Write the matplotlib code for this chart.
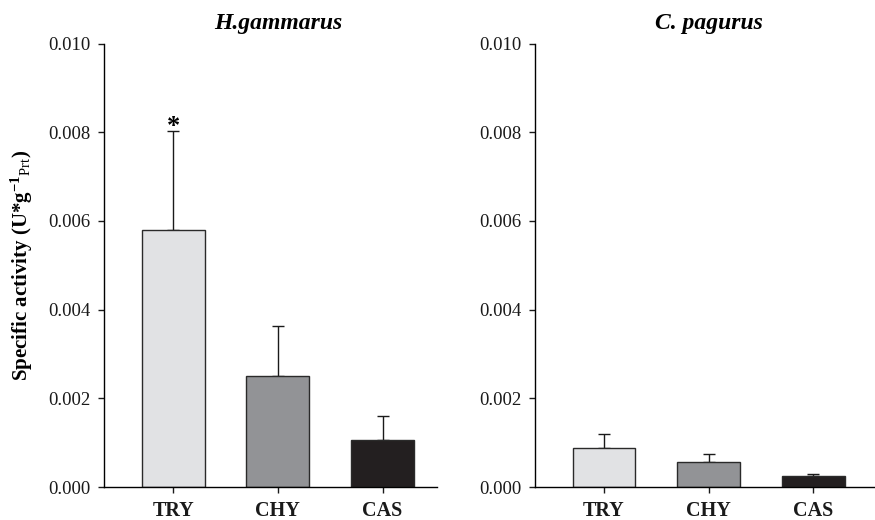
import matplotlib
matplotlib.use("Agg")
import matplotlib.pyplot as plt
import matplotlib.transforms as mtransforms

plt.rcParams['font.family'] = ['Liberation Serif', 'DejaVu Serif']
plt.rcParams['mathtext.fontset'] = 'custom'
plt.rcParams['mathtext.rm'] = 'Liberation Serif'
plt.rcParams['mathtext.bf'] = 'Liberation Serif:bold'
plt.rcParams['mathtext.it'] = 'Liberation Serif:italic'

categories = ["TRY", "CHY", "CAS"]
species = ["H.gammarus", "C. pagurus"]
hg_values = [0.0058, 0.0025, 0.00105]
hg_errors = [0.00223, 0.00114, 0.00055]
cp_values = [0.00088, 0.00057, 0.00024]
cp_errors = [0.00032, 0.00018, 0.00005]
bar_colors = ["#e1e2e4", "#929396", "#231f20"]
yticks = [0.000, 0.002, 0.004, 0.006, 0.008, 0.010]
ytick_labels = ["0.000", "0.002", "0.004", "0.006", "0.008", "0.010"]
significance = ["*", "", ""]

fig = plt.figure(figsize=(8.75, 5.2), dpi=100)
ax1 = fig.add_axes([104/875, 1-487/520, 333/875, 443.5/520])
ax2 = fig.add_axes([535/875, 1-487/520, 340/875, 443.5/520])

x = list(range(len(categories)))
for ax, vals, errs, title, xr in [(ax1, hg_values, hg_errors, species[0], 2.52),
                                   (ax2, cp_values, cp_errors, species[1], 2.59)]:
    ax.bar(x, vals, width=0.6, color=bar_colors, edgecolor="#2a2a2a", linewidth=1.0, zorder=2)
    ax.errorbar(x, vals, yerr=[[0]*len(vals), errs], fmt='none', ecolor='#1a1a1a',
                elinewidth=1.0, capsize=4.5, capthick=1.0, zorder=1)
    ax.set_xlim(-0.66, xr)
    ax.set_ylim(0, 0.010)
    ax.set_yticks(yticks)
    ax.set_yticklabels(ytick_labels, fontsize=13.5)
    ax.set_xticks(x)
    ax.set_xticklabels(categories, fontsize=14.5, fontweight='bold')
    ax.spines['top'].set_visible(False)
    ax.spines['right'].set_visible(False)
    ax.spines['left'].set_linewidth(1.0)
    ax.spines['bottom'].set_linewidth(1.0)
    ax.tick_params(axis='both', direction='out', length=4, width=1.0, pad=6, colors='#1a1a1a')
    trans = mtransforms.blended_transform_factory(ax.transData, ax.transAxes)
    ax.text(1, 1.022, title, transform=trans, ha='center', va='bottom',
            fontsize=17, fontweight='bold', fontstyle='italic')

for i, s in enumerate(significance):
    if s:
        ax1.annotate(s, xy=(x[i], hg_values[i] + hg_errors[i]), xytext=(0, -5),
                     textcoords='offset points', ha='center', va='bottom',
                     fontsize=19, fontweight='bold')

ax1.set_ylabel(r'Specific activity (U*g$^{\mathbf{-1}}$$_{\mathrm{Prt}}$)',
               fontsize=15, fontweight='bold', labelpad=9)

fig.savefig("out.png", dpi=100)
